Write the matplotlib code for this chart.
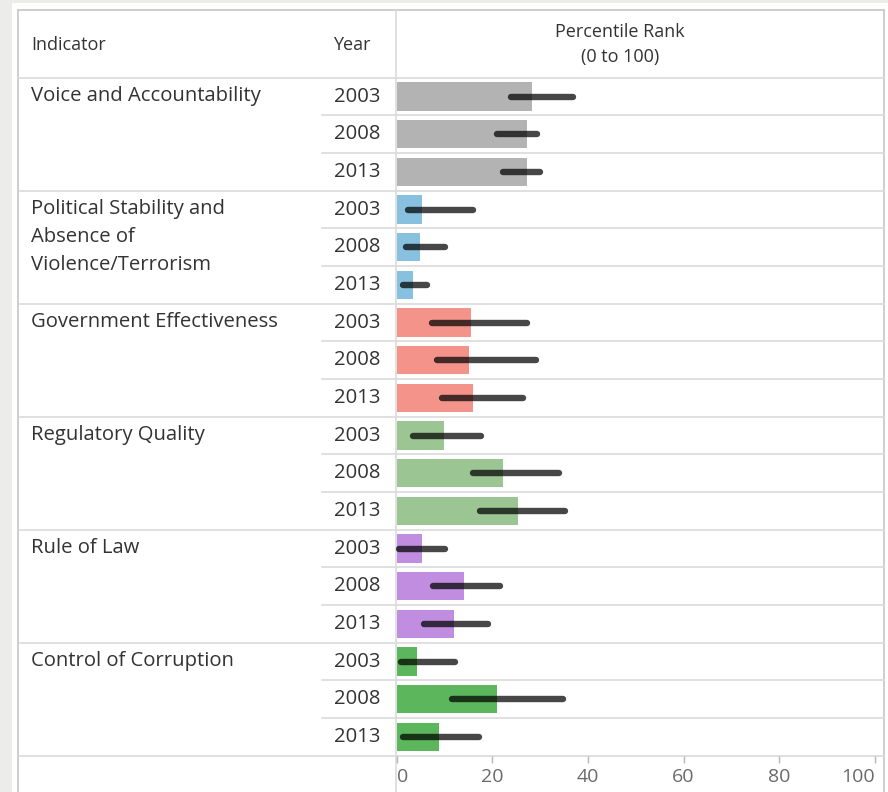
import matplotlib
matplotlib.use("Agg")
import matplotlib.pyplot as plt
from matplotlib.patches import Rectangle

plt.rcParams['font.family'] = ['Open Sans', 'DejaVu Sans']

# ---------------- data ----------------
indicators = ["Voice and Accountability",
              "Political Stability and\nAbsence of\nViolence/Terrorism",
              "Government Effectiveness",
              "Regulatory Quality",
              "Rule of Law",
              "Control of Corruption"]
years = ["2003", "2008", "2013"]
colors = ["#b3b3b3", "#88c1df", "#f4938a", "#9bc592", "#c08de0", "#5cb65c"]

rank = [[28.3, 27.2, 27.2],
        [5.4, 5.0, 3.5],
        [15.5, 15.1, 15.9],
        [9.9, 22.3, 25.3],
        [5.4, 14.1, 12.1],
        [4.2, 21.1, 8.8]]
lower = [[24.0, 21.0, 22.3],
         [2.4, 1.9, 1.4],
         [7.5, 8.4, 9.6],
         [3.5, 15.9, 17.5],
         [0.5, 7.7, 5.7],
         [1.0, 11.6, 1.4]]
upper = [[36.9, 29.4, 29.9],
         [15.9, 10.1, 6.3],
         [27.3, 29.1, 26.4],
         [17.7, 34.0, 35.3],
         [10.2, 21.7, 19.1],
         [12.3, 34.9, 17.3]]
xticks = [0, 20, 40, 60, 80, 100]

# ---------------- layout (pixels) ----------------
W, H = 888, 792
fig = plt.figure(figsize=(W / 100, H / 100), dpi=100, facecolor="#ececea")

bg = fig.add_axes([0, 0, 1, 1])
bg.set_xlim(0, W)
bg.set_ylim(H, 0)
bg.axis("off")
bg.add_patch(Rectangle((12, 3), W - 12, H - 3, facecolor="white", edgecolor="none"))

left, right, top = 18, 884, 10
header_bottom = 77.7
row_h = 37.67
year_left = 322
chart_left = 396
n_rows = len(indicators) * len(years)
table_bottom = header_bottom + n_rows * row_h

border = "#c6c6c6"
grid = "#dadada"
# outer borders
bg.plot([left, left], [top, H], color=border, lw=1.2)
bg.plot([right, right], [top, H], color=border, lw=1.2)
bg.plot([left, right], [top, top], color=border, lw=1.2)
# header separator and chart column separator
bg.plot([left, right], [header_bottom, header_bottom], color=grid, lw=1.2)
bg.plot([chart_left, chart_left], [top, H], color=grid, lw=1.2)

text_col = "#333333"
body_size = 14.6
for g, name in enumerate(indicators):
    g_top = header_bottom + g * len(years) * row_h
    # group separator
    bg.plot([left + 2, right], [g_top + len(years) * row_h] * 2, color=grid, lw=1.2)
    for k, line in enumerate(name.split("\n")):
        bg.text(31, g_top + row_h / 2 - 1 + k * 28, line, fontsize=body_size,
                color=text_col, va="center", ha="left")
    for j, yr in enumerate(years):
        r_top = g_top + j * row_h
        if j > 0:
            bg.plot([year_left, right], [r_top, r_top], color=grid, lw=1.2)
        bg.text(380, r_top + row_h / 2, yr, fontsize=body_size, color=text_col,
                va="center", ha="right")

# header texts
hdr_size = 13
bg.text(31, 45, "Indicator", fontsize=hdr_size, color=text_col, va="center", ha="left")
bg.text(333, 45, "Year", fontsize=hdr_size, color=text_col, va="center", ha="left")
bg.text(620, 32, "Percentile Rank", fontsize=hdr_size, color=text_col, va="center", ha="center")
bg.text(620, 57, "(0 to 100)", fontsize=hdr_size, color=text_col, va="center", ha="center")

# ---------------- chart axes ----------------
x0_px = 396.5
px_per_unit = (875 - 396.5) / 100
ax = fig.add_axes([chart_left / W, 1 - table_bottom / H,
                   (right - chart_left) / W, (table_bottom - header_bottom) / H])
ax.set_facecolor("none")
ax.set_xlim(-(x0_px - chart_left) / px_per_unit, (right - x0_px) / px_per_unit)
ax.set_ylim(n_rows - 0.5, -0.5)

for g in range(len(indicators)):
    pos = [g * len(years) + j for j in range(len(years))]
    ax.barh(pos, rank[g], height=0.75, color=colors[g], left=0, zorder=2)
    ax.hlines(pos, lower[g], upper[g], color="black", alpha=0.72,
              lw=4.6, capstyle="round", zorder=3)

for s in ax.spines.values():
    s.set_visible(False)
ax.set_yticks([])
ax.set_xticks(xticks)
ax.set_xticklabels([str(t) for t in xticks])
ax.tick_params(axis="x", direction="out", length=5, width=1, color="#b5b5b5",
               labelcolor="#6a6a6a", labelsize=14, pad=4)
labels = ax.get_xticklabels()
labels[0].set_horizontalalignment("left")
labels[-1].set_horizontalalignment("right")

fig.savefig("out.png", dpi=100, facecolor=fig.get_facecolor())
